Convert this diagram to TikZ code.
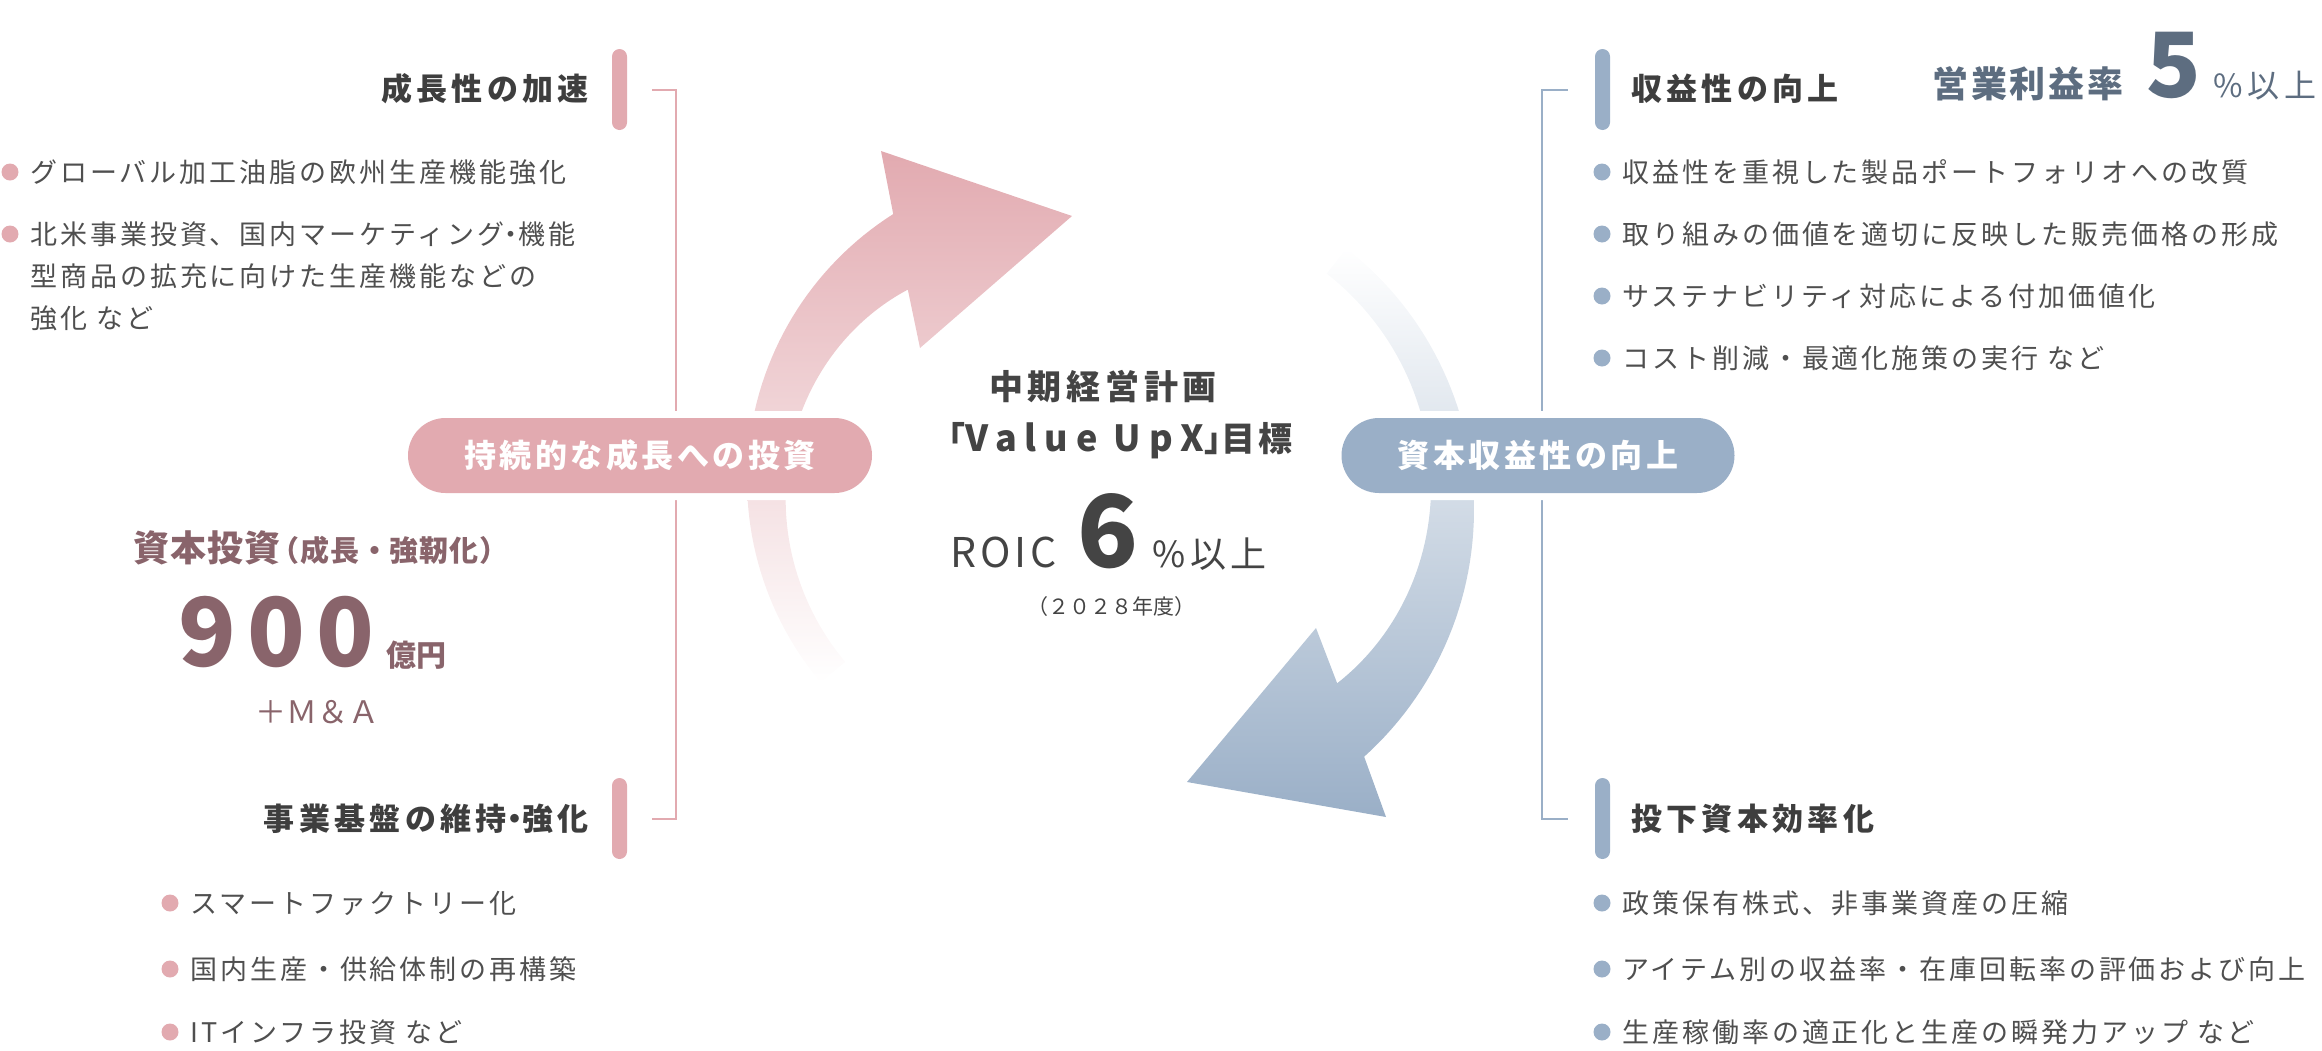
\documentclass[tikz,border=0pt]{standalone}
\usepackage{fontspec}
\setmainfont{Noto Sans CJK JP}
\usepackage{xcolor}
\usepackage{tikz}
\usetikzlibrary{positioning}

\definecolor{pinkc}{HTML}{E2AAB0}
\definecolor{bluec}{HTML}{9AAFC7}
\definecolor{headgray}{HTML}{3E3E3E}
\definecolor{bodygray}{HTML}{4F4F4F}
\definecolor{centergray}{HTML}{444444}
\definecolor{mauve}{HTML}{89646B}
\definecolor{slate}{HTML}{5D6D80}

% half-width punctuation
\newcommand{\hk}[1]{{\addfontfeatures{RawFeature=+halt}#1}}

\begin{document}
\begin{tikzpicture}[x=1pt, y=-1pt,
    headtxt/.style={inner sep=0pt, text=headgray, font=\fontsize{31pt}{36pt}\selectfont\bfseries\addfontfeatures{LetterSpace=14}},
    itemtxt/.style={inner sep=0pt, anchor=west, align=left, text=bodygray, font=\fontsize{27pt}{42pt}\selectfont\addfontfeatures{LetterSpace=11}},
    pinkdot/.style={circle, fill=pinkc, minimum size=17pt, inner sep=0pt},
    bluedot/.style={circle, fill=bluec, minimum size=17pt, inner sep=0pt},
    barbox/.style={rounded corners=7.5pt, minimum width=15pt, minimum height=81pt, inner sep=0pt},
    pillbox/.style={rounded corners=37.5pt, minimum height=75pt, inner sep=0pt, text=white,
        font=\fontsize{32pt}{36pt}\selectfont\bfseries\addfontfeatures{LetterSpace=11},
        preaction={draw=white, line width=14pt}},
    linkline/.style={line width=2pt}
]
    \useasboundingbox (0,0) rectangle (2322,1050);

    % cycle arrows
    \shade[top color=pinkc, bottom color=white]
        plot[domain=140:237.6, samples=60, variable=\t] ({1062+315*cos(\t)}, {480+315*sin(\t)})
        -- (881,151) -- (1072,216) -- (920,348)
        -- plot[domain=231:140, samples=60, variable=\t] ({1062+(283-38*((\t-140)/91)^2)*cos(\t)}, {480+(283-38*((\t-140)/91)^2)*sin(\t)})
        -- cycle;
    \shade[top color=white, bottom color=bluec]
        plot[domain=-52:48, samples=60, variable=\t] ({1142+332*cos(\t)}, {510+332*sin(\t)})
        -- (1386,817) -- (1187,782) -- (1316,628)
        -- plot[domain=41.6:-52, samples=60, variable=\t] ({1142+(300-39*((\t+52)/93.6)^2)*cos(\t)}, {510+(300-39*((\t+52)/93.6)^2)*sin(\t)})
        -- cycle;

    % bars
    \node[barbox, fill=pinkc] (growbar) at (619.5,89.5) {};
    \node[barbox, fill=pinkc] (basebar) at (619.5,818.5) {};
    \node[barbox, fill=bluec] (profbar) at (1602.5,89.5) {};
    \node[barbox, fill=bluec] (effbar) at (1602.5,818.5) {};

    % brackets
    \draw[pinkc, linkline] ([xshift=25pt]growbar.east) -- ++(24,0) |- ([xshift=25pt]basebar.east);
    \draw[bluec, linkline] ([xshift=-27pt]profbar.west) -- ++(-26,0) |- ([xshift=-27pt]effbar.west);

    % pills
    \node[pillbox, fill=pinkc, minimum width=464pt] (invest) at (640,455.5) {持続的な成長への投資};
    \node[pillbox, fill=bluec, minimum width=393pt] (capital) at (1538,455.5) {資本収益性の向上};

    % left top
    \node[headtxt, anchor=east] (growhead) at (589,89) {成長性の加速};
    \node[pinkdot] (gd1) at (10,172) {};
    \node[itemtxt] (gi1) at (30,172) {グローバル加工油脂の欧州生産機能強化};
    \node[pinkdot] (gd2) at (10,234) {};
    \node[itemtxt] (gi2) at (30,276) {北米事業投資、国内マーケティング\hk{・}機能\\型商品の拡充に向けた生産機能などの\\強化 など};

    % capital investment
    \node[anchor=west, inner sep=0pt, text=mauve, font=\fontsize{36pt}{40pt}\selectfont\bfseries\addfontfeatures{LetterSpace=3}] (capex) at (133,548)
        {資本投資\hspace{-10pt}{\fontsize{29pt}{32pt}\selectfont（成長・強靭化）}};
    \node[anchor=base west, inner sep=0pt, text=mauve] (amount) at (178,666)
        {{\fontsize{95pt}{95pt}\selectfont\bfseries\addfontfeatures{LetterSpace=12}900}\hspace{12pt}{\fontsize{30pt}{30pt}\selectfont\bfseries 億円}};
    \node[anchor=west, inner sep=0pt, text=mauve, font=\fontsize{31pt}{33pt}\selectfont] (ma) at (255,712) {＋Ｍ＆Ａ};

    % left bottom
    \node[headtxt, anchor=east] (basehead) at (589,819) {事業基盤の維持\hk{・}強化};
    \node[pinkdot] (bd1) at (170,903) {};
    \node[itemtxt] (bi1) at (190,903) {スマートファクトリー化};
    \node[pinkdot] (bd2) at (170,969) {};
    \node[itemtxt] (bi2) at (190,969) {国内生産・供給体制の再構築};
    \node[pinkdot] (bd3) at (170,1032) {};
    \node[itemtxt] (bi3) at (190,1032) {ITインフラ投資 など};

    % center
    \node[inner sep=0pt, text=centergray, font=\fontsize{34pt}{38pt}\selectfont\bfseries\addfontfeatures{LetterSpace=14}] (plan) at (1103,387) {中期経営計画};
    \node[inner sep=0pt, text=centergray, font=\fontsize{34pt}{38pt}\selectfont\bfseries\addfontfeatures{LetterSpace=10}] (target) at (1112,441)
        {「{\fontsize{36pt}{38pt}\selectfont\addfontfeatures{LetterSpace=22}Value UpX}\hk{」}目標};
    \node[anchor=base west, inner sep=0pt, text=centergray, font=\fontsize{41pt}{44pt}\selectfont\addfontfeatures{LetterSpace=10}] (roic) at (950,567) {ROIC};
    \node[base right=20pt of roic, inner sep=0pt, text=centergray, font=\fontsize{100pt}{100pt}\selectfont\bfseries] (six) {6};
    \node[base right=14pt of six, inner sep=0pt, text=centergray, font=\fontsize{36pt}{40pt}\selectfont\addfontfeatures{LetterSpace=12}] (pct) {\%以上};
    \node[inner sep=0pt, text=centergray, font=\fontsize{21pt}{24pt}\selectfont] (year) at (1111,607) {（２０２８年度）};

    % right top
    \node[headtxt, anchor=west] (profhead) at (1631,89) {収益性の向上};
    \node[anchor=base west, inner sep=0pt, text=slate, font=\fontsize{36pt}{40pt}\selectfont\bfseries\addfontfeatures{LetterSpace=8}] (opm) at (1932,97) {営業利益率};
    \node[base right=22pt of opm, inner sep=0pt, text=slate, font=\fontsize{90pt}{90pt}\selectfont\bfseries] (five) {5};
    \node[base right=12pt of five, inner sep=0pt, text=slate, font=\fontsize{32pt}{36pt}\selectfont\addfontfeatures{LetterSpace=15}] (fivepct) {\%以上};
    \node[bluedot] (pd1) at (1602,172) {};
    \node[itemtxt] (pi1) at (1622,172) {収益性を重視した製品ポートフォリオへの改質};
    \node[bluedot] (pd2) at (1602,234) {};
    \node[itemtxt] (pi2) at (1622,234) {取り組みの価値を適切に反映した販売価格の形成};
    \node[bluedot] (pd3) at (1602,296) {};
    \node[itemtxt] (pi3) at (1622,296) {サステナビリティ対応による付加価値化};
    \node[bluedot] (pd4) at (1602,358) {};
    \node[itemtxt] (pi4) at (1622,358) {コスト削減・最適化施策の実行 など};

    % right bottom
    \node[headtxt, anchor=west] (effhead) at (1631,819) {投下資本効率化};
    \node[bluedot] (ed1) at (1602,903) {};
    \node[itemtxt] (ei1) at (1622,903) {政策保有株式、非事業資産の圧縮};
    \node[bluedot] (ed2) at (1602,969) {};
    \node[itemtxt] (ei2) at (1622,969) {アイテム別の収益率・在庫回転率の評価および向上};
    \node[bluedot] (ed3) at (1602,1032) {};
    \node[itemtxt] (ei3) at (1622,1032) {生産稼働率の適正化と生産の瞬発力アップ など};
\end{tikzpicture}
\end{document}
